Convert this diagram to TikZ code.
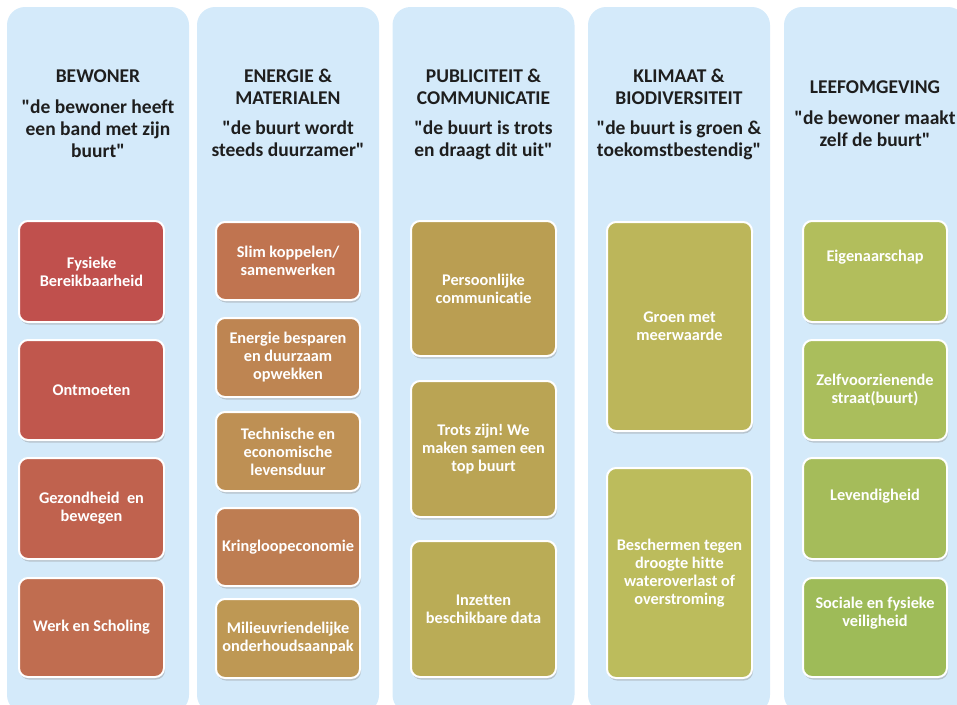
\documentclass[tikz,border=0pt]{standalone}
\usepackage{fontspec}
\setmainfont{Carlito}[Ligatures={NoCommon}]
\newfontfamily\carl{Carlito}[Ligatures={NoCommon}]
\usetikzlibrary{positioning,shadows}
\frenchspacing

\definecolor{colbg}{HTML}{D4EAFA}
\definecolor{headtxt}{HTML}{1E1E1E}
\definecolor{rA}{HTML}{C0504D}
\definecolor{rB}{HTML}{C0574D}
\definecolor{rC}{HTML}{C0624E}
\definecolor{rD}{HTML}{C06D50}
\definecolor{oA}{HTML}{C07450}
\definecolor{oB}{HTML}{BE8552}
\definecolor{oC}{HTML}{BE9054}
\definecolor{oD}{HTML}{BE7D52}
\definecolor{oE}{HTML}{BE9854}
\definecolor{yA}{HTML}{BA9E52}
\definecolor{yB}{HTML}{BAA454}
\definecolor{yC}{HTML}{BAAC56}
\definecolor{gA}{HTML}{BCB65A}
\definecolor{gB}{HTML}{BCBC5C}
\definecolor{lA}{HTML}{B2BE5C}
\definecolor{lB}{HTML}{AABE5C}
\definecolor{lC}{HTML}{A5BC5A}
\definecolor{lD}{HTML}{9EBB58}

\newcommand{\qt}{\symbol{34}}

\tikzstyle{col}=[fill=colbg, rounded corners=18pt, minimum width=182pt, minimum height=706pt, inner sep=0pt]
\tikzstyle{head}=[text=headtxt, font=\carl\fontsize{19.5}{22}\selectfont\bfseries, align=center, inner sep=0pt]
\tikzstyle{item}=[draw=white, line width=2pt, rounded corners=9pt, text=white, align=center,
  font=\carl\fontsize{16.3}{18}\selectfont\bfseries, inner sep=2pt,
  drop shadow={shadow xshift=1pt, shadow yshift=-2.5pt, fill=black!45, opacity=.4}]

\begin{document}
\begin{tikzpicture}[x=1pt,y=-1pt]
   \useasboundingbox (0,0) rectangle (957,704);
   \clip (0,0) rectangle (957,704);
   % columns
   \node[col] (K1) at (98,360) {};
   \node[col] (K2) at (288,360) {};
   \node[col] (K3) at (483.5,360) {};
   \node[col] (K4) at (679,360) {};
   \node[col] (K5) at (875,360) {};
   % headers
   \node[head] (T1) at (98,76) {BEWONER};
   \node[head] (Q1) at (98,128.5) {\qt de bewoner heeft\\een band met zijn\\buurt\qt};
   \node[head] (T2) at (288,87) {ENERGIE \&\\MATERIALEN};
   \node[head] (Q2) at (288,138.5) {\qt de buurt wordt\\steeds duurzamer\qt};
   \node[head] (T3) at (483.5,87) {PUBLICITEIT \&\\COMMUNICATIE};
   \node[head] (Q3) at (483.5,140) {\qt de buurt is trots\\en draagt dit uit\qt};
   \node[head] (T4) at (679,87) {KLIMAAT \&\\BIODIVERSITEIT};
   \node[head] (Q4) at (679,140) {\qt de buurt is groen \&\\toekomstbestendig\qt};
   \node[head] (T5) at (875,87) {LEEFOMGEVING};
   \node[head] (Q5) at (875,128.5) {\qt de bewoner maakt\\zelf de buurt\qt};
   % bewoner
   \node[item,fill=rA,minimum width=145pt,minimum height=101pt] (B11) at (91.5,271.5) {Fysieke\\Bereikbaarheid};
   \node[item,fill=rB,minimum width=145pt,minimum height=100pt] (B12) at (91.5,390) {Ontmoeten};
   \node[item,fill=rC,minimum width=145pt,minimum height=101pt] (B13) at (91.5,508.5) {Gezondheid~ en\\bewegen};
   \node[item,fill=rD,minimum width=145pt,minimum height=99pt] (B14) at (91.5,627.5) {Werk en Scholing};
   % energie
   \node[item,fill=oA,minimum width=144pt,minimum height=78pt] (B21) at (288,261) {Slim koppelen/\\samenwerken};
   \node[item,fill=oB,minimum width=144pt,minimum height=79pt] (B22) at (288,357.5) {Energie besparen\\en duurzaam\\opwekken};
   \node[item,fill=oC,minimum width=144pt,minimum height=79pt] (B23) at (288,451.5) {Technische en\\economische\\levensduur};
   \node[item,fill=oD,minimum width=144pt,minimum height=78pt] (B24) at (288,547) {Kringloopeconomie};
   \node[item,fill=oE,minimum width=144pt,minimum height=79pt] (B25) at (288,638.5) {Milieuvriendelijke\\onderhoudsaanpak};
   % publiciteit
   \node[item,fill=yA,minimum width=145pt,minimum height=135pt] (B31) at (483.5,288.5) {Persoonlijke\\communicatie};
   \node[item,fill=yB,minimum width=145pt,minimum height=136pt] (B32) at (483.5,449) {Trots zijn! We\\maken samen een\\top buurt};
   \node[item,fill=yC,minimum width=145pt,minimum height=136pt] (B33) at (483.5,609) {Inzetten\\beschikbare data};
   % klimaat
   \node[item,fill=gA,minimum width=145pt,minimum height=209pt] (B41) at (679.5,326.5) {Groen met\\meerwaarde};
   \node[item,fill=gB,minimum width=145pt,minimum height=210pt] (B42) at (679.5,573) {Beschermen tegen\\droogte hitte\\wateroverlast of\\overstroming};
   % leefomgeving
   \node[item,fill=lA,minimum width=144pt,minimum height=101pt,text depth=31pt] (B51) at (875,271.5) {Eigenaarschap};
   \node[item,fill=lB,minimum width=144pt,minimum height=100pt] (B52) at (875,390) {Zelfvoorzienende\\straat(buurt)};
   \node[item,fill=lC,minimum width=144pt,minimum height=101pt,text depth=27pt] (B53) at (875,508.5) {Levendigheid};
   \node[item,fill=lD,minimum width=144pt,minimum height=99pt,text depth=31pt] (B54) at (875,627.5) {Sociale en fysieke\\veiligheid};
\end{tikzpicture}
\end{document}
